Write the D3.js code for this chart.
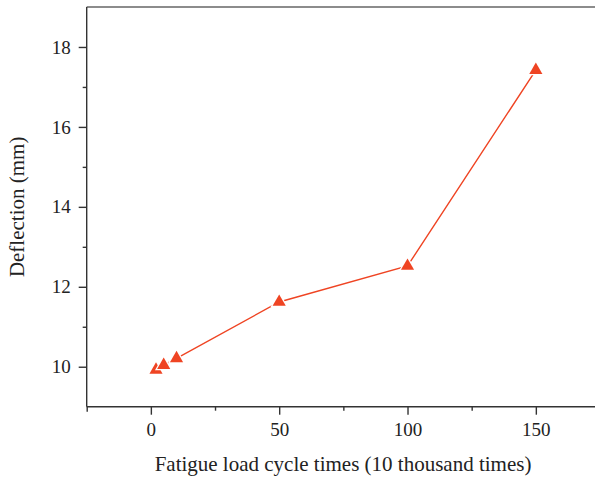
<!DOCTYPE html>
<html>
<head>
<meta charset="utf-8">
<script src="https://cdn.jsdelivr.net/npm/d3@7"></script>
<style>
  body { margin: 0; background: #fff; }
  svg { display: block; }
  .axis text { font-family: "Liberation Serif", "DejaVu Serif", serif; font-size: 19px; fill: #222; }
  .axis path, .axis line { stroke: #333; stroke-width: 1.4; }
  .axis-title { font-family: "Liberation Serif", "DejaVu Serif", serif; font-size: 21px; fill: #222; }
</style>
</head>
<body>
<svg id="chart"></svg>
<script>
// Data
const cycles = [2, 5, 10, 50, 100, 150];
const deflection = [9.92, 10.04, 10.21, 11.62, 12.52, 17.42];
const xTicks = [0, 50, 100, 150];
const xMinorTicks = [25, 75, 125];
const yTicks = [10, 12, 14, 16, 18];
const yMinorTicks = [11, 13, 15, 17];

const width = 595, height = 481;
const margin = { top: 7, left: 86.7, bottom: 74.3 };
const plotRight = 600; // frame is cropped by the image edge

const svg = d3.select('#chart')
  .attr('width', width)
  .attr('height', height);

const x = d3.scaleLinear().domain([-25, 175]).range([margin.left, plotRight]);
const y = d3.scaleLinear().domain([9, 19]).range([height - margin.bottom, margin.top]);

const data = cycles.map((c, i) => ({ x: c, y: deflection[i] }));

// Top frame line
svg.append('line')
  .attr('x1', margin.left).attr('x2', width)
  .attr('y1', y(19)).attr('y2', y(19))
  .attr('stroke', '#666').attr('stroke-width', 1.6);

// X axis
const xAxisG = svg.append('g')
  .attr('class', 'axis')
  .attr('transform', `translate(0,${y(9)})`)
  .call(d3.axisBottom(x).tickValues(xTicks).tickSize(8).tickPadding(8).tickFormat(d3.format('d')));
xAxisG.select('.domain').attr('d', `M${margin.left},0H${width}`);
svg.append('g')
  .attr('class', 'axis')
  .attr('transform', `translate(0,${y(9)})`)
  .call(d3.axisBottom(x).tickValues(xMinorTicks).tickSize(4).tickFormat(''))
  .select('.domain').remove();
// tick at left end of x axis
svg.append('g')
  .attr('class', 'axis')
  .attr('transform', `translate(0,${y(9)})`)
  .call(d3.axisBottom(x).tickValues([-25]).tickSize(5).tickFormat(''))
  .select('.domain').remove();

// Y axis
const yAxisG = svg.append('g')
  .attr('class', 'axis')
  .attr('transform', `translate(${margin.left},0)`)
  .call(d3.axisLeft(y).tickValues(yTicks).tickSize(8).tickPadding(8).tickFormat(d3.format('d')));
yAxisG.select('.domain').attr('d', `M0,${y(9)}V${y(19)}`);
svg.append('g')
  .attr('class', 'axis')
  .attr('transform', `translate(${margin.left},0)`)
  .call(d3.axisLeft(y).tickValues(yMinorTicks).tickSize(4).tickFormat(''))
  .select('.domain').remove();

// Axis titles
svg.append('text')
  .attr('class', 'axis-title')
  .attr('x', 343)
  .attr('y', 471)
  .attr('text-anchor', 'middle')
  .text('Fatigue load cycle times (10 thousand times)');

svg.append('text')
  .attr('class', 'axis-title')
  .attr('transform', `translate(24,${(y(9) + y(19)) / 2}) rotate(-90)`)
  .attr('text-anchor', 'middle')
  .text('Deflection (mm)');

// Line
const color = '#ef4423';
const line = d3.line().x(d => x(d.x)).y(d => y(d.y));
svg.append('path')
  .datum(data)
  .attr('d', line)
  .attr('fill', 'none')
  .attr('stroke', color)
  .attr('stroke-width', 1.4);

// Triangle markers, white outline gives the gap around each symbol
const tri = d3.symbol().type(d3.symbolTriangle).size(75);
svg.selectAll('.marker')
  .data(data)
  .join('path')
  .attr('class', 'marker')
  .attr('d', tri)
  .attr('transform', d => `translate(${x(d.x)},${y(d.y)})`)
  .attr('fill', color)
  .attr('stroke', '#fff')
  .attr('stroke-width', 2.5)
  .attr('paint-order', 'stroke');
</script>
</body>
</html>
